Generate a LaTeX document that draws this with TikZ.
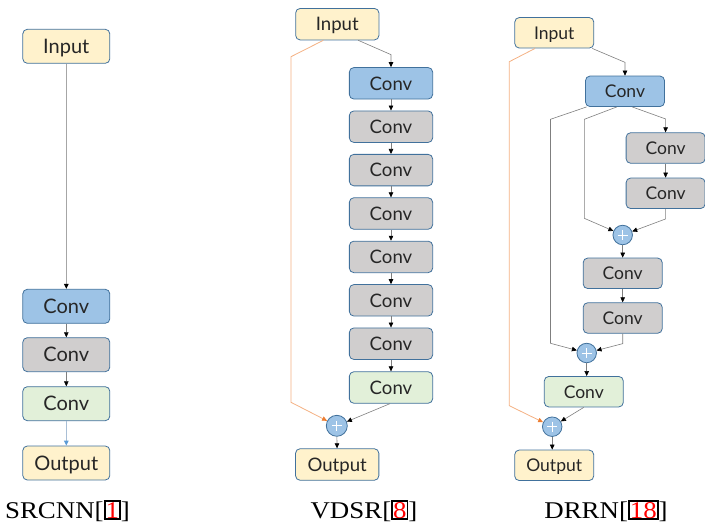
\documentclass[tikz,border=0pt]{standalone}
\usepackage{fontspec}
\usepackage{graphicx}
\usetikzlibrary{arrows.meta,calc}
\newfontfamily\boxfont{Lato}
\newfontfamily\capfont{Liberation Serif}
\definecolor{inputfill}{HTML}{FFF2CC}
\definecolor{convblue}{HTML}{9DC3E6}
\definecolor{convgray}{HTML}{D0CECE}
\definecolor{convgreen}{HTML}{E2F0D9}
\definecolor{edgeblue}{HTML}{41719C}
\definecolor{linegray}{HTML}{7F7F7F}
\definecolor{lightline}{HTML}{A6A6A6}
\definecolor{skipline}{HTML}{F4B183}
\definecolor{skiphead}{HTML}{ED7D31}
\definecolor{outline}{HTML}{A9BFD6}
\definecolor{outhead}{HTML}{5B9BD5}
\newcommand{\citebox}[1]{{\setlength{\fboxsep}{0pt}\setlength{\fboxrule}{1.7pt}\fbox{\textcolor{red}{#1}}}}
\newcommand{\captext}[1]{\scalebox{1.12}[1]{#1}}

\begin{document}
\begin{tikzpicture}[x=1pt,y=-1pt,
  blk/.style={draw=edgeblue, line width=0.8pt, rounded corners=4.5pt,
    text depth=0pt, inner sep=0pt, text=black!85},
  inbox/.style={blk, fill=inputfill},
  bconv/.style={blk, fill=convblue},
  gconv/.style={blk, fill=convgray},
  grconv/.style={blk, fill=convgreen},
  addop/.style={circle, draw=edgeblue, line width=0.8pt, fill=convblue, inner sep=0pt,
    path picture={\draw[white, line width=1pt]
      ($(path picture bounding box.center)+(-5,0)$) -- ++(10,0)
      ($(path picture bounding box.center)+(0,-5)$) -- ++(0,10);}},
  flow/.style={draw=linegray, line width=0.6pt,
    -{Triangle[length=5pt,width=4.5pt,color=black]}},
  feed/.style={draw=lightline, line width=1pt,
    -{Triangle[length=5pt,width=4.5pt,color=black]}},
  tail/.style={draw=outline, line width=1pt,
    -{Triangle[length=5pt,width=4.5pt,color=outhead]}},
  skip/.style={draw=skipline, line width=0.8pt,
    -{Triangle[length=5pt,width=4.5pt,color=skiphead]}},
  caption/.style={font=\capfont\fontsize{24}{24}\selectfont, anchor=base, inner sep=0pt},
]
\useasboundingbox (0,0) rectangle (705,522);

% ---------------- SRCNN ----------------
\begin{scope}[every node/.append style={minimum width=87pt, minimum height=34pt,
    text height=14.4pt, font=\boxfont\fontsize{20}{20}\selectfont}]
  \node[inbox]  (s-in)  at (66.3,46.3)  {Input};
  \node[bconv]  (s-c1)  at (66.3,306.3) {Conv};
  \node[gconv]  (s-c2)  at (66.3,354.7) {Conv};
  \node[grconv] (s-c3)  at (66.3,403.7) {Conv};
  \node[inbox]  (s-out) at (66.3,463)   {Output};
\end{scope}
\draw[feed] (s-in) -- (s-c1);
\draw[flow] (s-c1) -- (s-c2);
\draw[flow] (s-c2) -- (s-c3);
\draw[tail] (s-c3) -- (s-out);
\node[caption] (s-cap) at (67.5,518) {\captext{SRCNN[\citebox{1}]}};

% ---------------- VDSR ----------------
\begin{scope}[every node/.append style={minimum width=83.3pt, minimum height=31.5pt,
    text height=13.4pt, font=\boxfont\fontsize{18.6}{18.6}\selectfont}]
  \node[inbox]  (v-in)  at (337.3,24.2)  {Input};
  \node[bconv]  (v-c1)  at (391,83.3)    {Conv};
  \node[gconv]  (v-c2)  at (391,126.7)   {Conv};
  \node[gconv]  (v-c3)  at (391,170.1)   {Conv};
  \node[gconv]  (v-c4)  at (391,213.5)   {Conv};
  \node[gconv]  (v-c5)  at (391,256.9)   {Conv};
  \node[gconv]  (v-c6)  at (391,300.3)   {Conv};
  \node[gconv]  (v-c7)  at (391,343.7)   {Conv};
  \node[grconv] (v-c8)  at (391,387.5)   {Conv};
  \node[inbox]  (v-out) at (337.2,464.5) {Output};
\end{scope}
\node[addop, minimum size=21pt] (v-add) at (336.8,425.8) {};
\draw[flow] ([xshift=21pt]v-in.south) -- ([yshift=12.5pt]v-c1.north) -- (v-c1.north);
\foreach \a/\b in {1/2,2/3,3/4,4/5,5/6,6/7,7/8}
  \draw[flow] (v-c\a) -- (v-c\b);
\draw[flow] ([xshift=-1pt]v-c8.south) -- (v-add);
\draw[skip] ([xshift=-14pt]v-in.south) -- (291,56.7) -- (291,402.3) -- (v-add);
\draw[flow] (v-add) -- (v-out);
\node[caption] (v-cap) at (364,518) {\captext{VDSR[\citebox{8}]}};

% ---------------- DRRN ----------------
\begin{scope}[every node/.append style={minimum width=79pt, minimum height=30.5pt,
    text height=12.6pt, font=\boxfont\fontsize{17.5}{17.5}\selectfont}]
  \node[inbox]  (d-in)  at (554.3,32.8)  {Input};
  \node[bconv]  (d-c1)  at (625,91.3)    {Conv};
  \node[gconv]  (d-r1)  at (665.6,148)   {Conv};
  \node[gconv]  (d-r2)  at (665.6,193.3) {Conv};
  \node[gconv]  (d-c3)  at (622.7,273.3) {Conv};
  \node[gconv]  (d-c4)  at (622.7,318)   {Conv};
  \node[grconv] (d-c5)  at (583.8,391.7) {Conv};
  \node[inbox]  (d-out) at (554.2,465.3) {Output};
\end{scope}
\node[addop, minimum size=19.5pt] (d-add1) at (622.7,235)   {};
\node[addop, minimum size=19.5pt] (d-add2) at (586.7,353)   {};
\node[addop, minimum size=19.5pt] (d-add3) at (552.2,426.7) {};

\draw[flow] ([xshift=38pt]d-in.south) -- ([yshift=13.3pt]d-c1.north) -- (d-c1.north);
\draw[skip] ([xshift=-19.3pt]d-in.south) -- (509.3,61.7) -- (509.3,405.7) -- (d-add3);
% outer residual path
\draw[flow] ([xshift=-38.5pt]d-c1.south) -- (550.5,119.3) -- (550.5,343.3) -- (d-add2);
% inner residual unit 1
\draw[flow] ([xshift=-8.3pt]d-c1.south) -- (584.3,119.3) -- (584.3,218.3) -- (d-add1);
\draw[flow] ([xshift=7.3pt]d-c1.south) -- ([yshift=13.4pt]d-r1.north) -- (d-r1.north);
\draw[flow] (d-r1) -- (d-r2);
\draw[flow] (d-r2.south) -- ([yshift=-10pt]d-r2.south) -- (d-add1);
% inner residual unit 2
\draw[flow] (d-add1) -- (d-c3);
\draw[flow] (d-c3) -- (d-c4);
\draw[flow] (d-c4.south) -- ([yshift=-10pt]d-c4.south) -- (d-add2);
\draw[flow] (d-add2) -- (d-add2 |- d-c5.north);
\draw[flow] (d-c5.south) -- (d-add3);
\draw[flow] (d-add3) -- (d-add3 |- d-out.north);
\node[caption] (d-cap) at (606,518) {\captext{DRRN[\citebox{18}]}};
\end{tikzpicture}
\end{document}
